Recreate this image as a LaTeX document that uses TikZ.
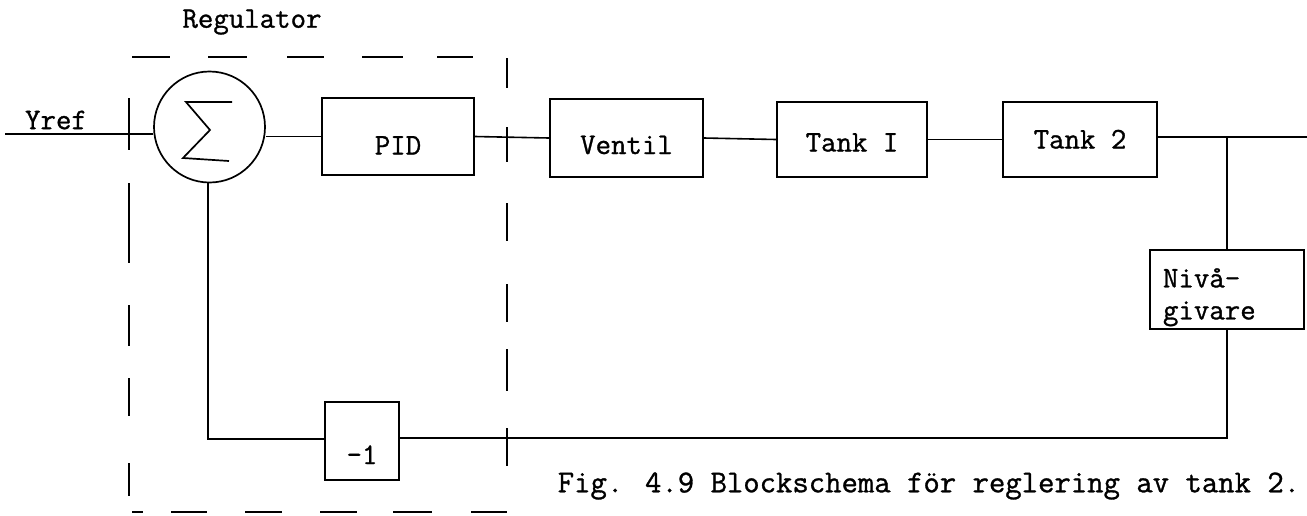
\documentclass[tikz,border=0pt]{standalone}
\usepackage{fontspec}
\newfontfamily\tw[FakeBold=1.0]{Latin Modern Mono}
\begin{document}
\begin{tikzpicture}[x=1pt,y=-1pt,line width=1.7pt,
  every node/.style={font=\tw\bfseries\fontsize{30}{32}\selectfont},
  blk/.style={draw,rectangle,inner sep=0pt,align=center},
  conn/.style={line width=1.6pt},
  dsh/.style={line width=1.8pt}]
\useasboundingbox (0,0) rectangle (1307,515);
% title
\node (reg) at (252,22) {Regulator};
\node (yref) at (56,120) {Yref};
\coordinate (yin) at (5,134);
% summation
\node[draw,circle,minimum size=111pt,inner sep=0pt] (sum) at (209.5,127) {};
\draw[line width=1.7pt,line join=miter] (232,102) -- (186,102) -- (210,130) -- (183,158) -- (229,161);
% blocks
\node[blk,minimum width=152pt,minimum height=77pt] (pid) at (398,136.5) {\raisebox{-18pt}[0pt][0pt]{PID}};
\node[blk,minimum width=153pt,minimum height=78pt] (ventil) at (626.5,138) {\raisebox{-16pt}[0pt][0pt]{Ventil}};
\node[blk,minimum width=150pt,minimum height=75pt] (tank1) at (852,139.5) {\raisebox{-12pt}[0pt][0pt]{Tank I}};
\node[blk,minimum width=154pt,minimum height=75pt] (tank2) at (1080,139.5) {\raisebox{-9pt}[0pt][0pt]{Tank 2}};
\node[blk,minimum width=154pt,minimum height=79pt] (niva) at (1227,289.5) {\raisebox{-14pt}[0pt][0pt]{\parbox[c]{128pt}{\raggedright\baselineskip=32pt Nivå-\\givare}}};
\node[blk,minimum width=74pt,minimum height=78pt] (neg) at (362,441) {\raisebox{-23pt}[0pt][0pt]{-1}};
\node[anchor=east,inner sep=0pt,font=\tw\bfseries\fontsize{31.8}{34}\selectfont] (cap) at (1301,486) {Fig. 4.9 Blockschema för reglering av tank 2.};
% connectors
\coordinate (out) at (1307,137);
\coordinate (br) at (1227,137);
\coordinate (fb) at (1227,438);
\coordinate (fbl) at (208,439);
\draw[conn] (yin) -- (sum.west |- yin);
\draw[conn] (sum.east |- pid.west) -- (pid.west);
\draw[conn] (pid.east) -- (ventil.west);
\draw[conn] (ventil.east) -- (tank1.west);
\draw[conn] (tank1.east) -- (tank2.west);
\draw[conn] (tank2.east |- out) -- (out);
\draw[conn] (br) -- (niva.north);
\draw[conn] (niva.south) -- (fb) -- (fb -| neg.east);
\draw[conn] (fbl -| neg.west) -- (fbl) -- (sum.south -| fbl);
% dashed regulator boundary
\draw[dsh,dash pattern=on 38pt off 38pt on 39pt off 40pt on 37pt off 38pt on 41pt off 34pt on 36pt] (132,57) -- (473,57);
\draw[dsh,dash pattern=on 30pt off 39pt on 35pt off 41pt on 38pt off 43pt on 38pt off 27pt on 42pt off 37pt on 38pt] (507,58) -- (507,480);
\draw[dsh,dash pattern=on 52pt off 33pt on 80pt off 42pt on 41pt off 32pt on 38pt off 47pt on 33pt] (129,98) -- (129,513);
\draw[dsh,dash pattern=on 11pt off 28pt on 36pt off 38pt on 37pt off 38pt on 37pt off 36pt on 39pt off 39pt on 36pt] (132,512) -- (507,512);
\end{tikzpicture}
\end{document}
